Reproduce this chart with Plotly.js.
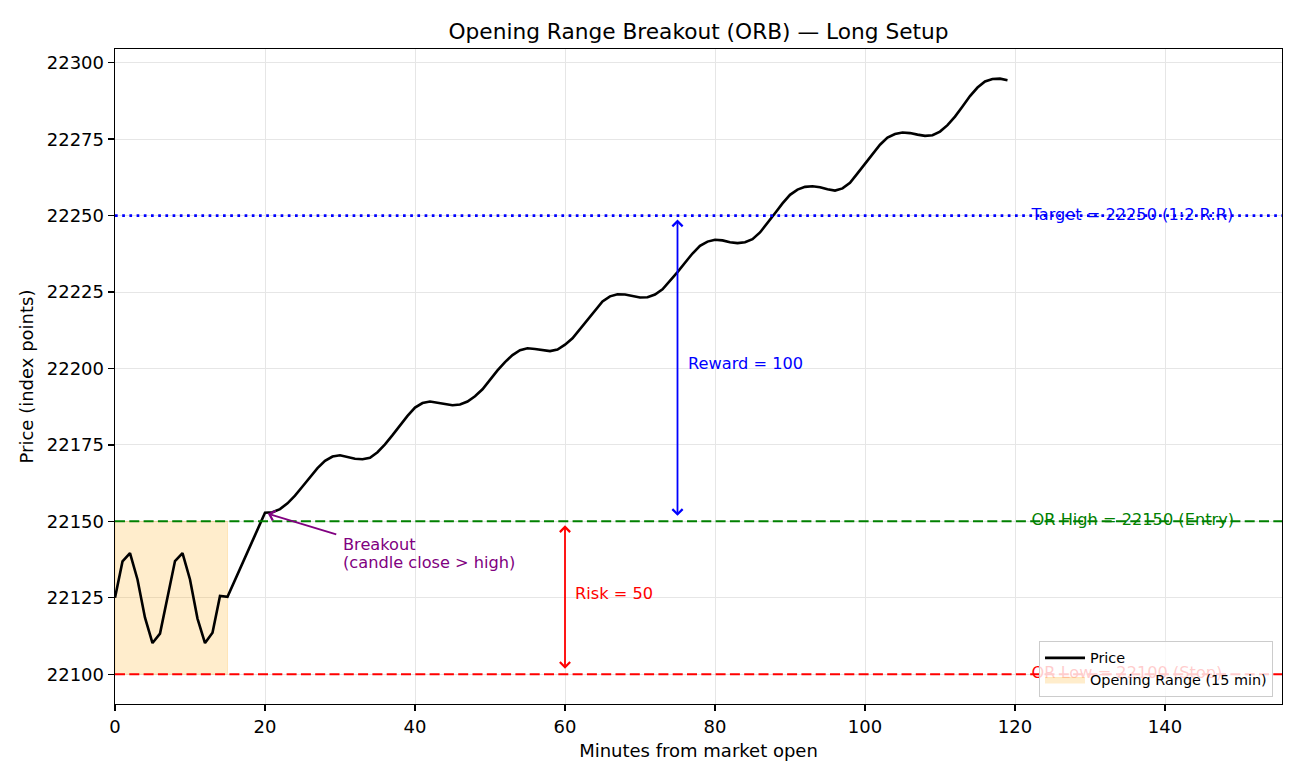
<!DOCTYPE html>
<html>
<head>
<meta charset="utf-8">
<script src="https://cdn.plot.ly/plotly-3.0.1.min.js"></script>
<style>
  html, body { margin: 0; padding: 0; background: #ffffff; }
  #chart { width: 1300px; height: 780px; }
</style>
</head>
<body>
<div id="chart"></div>
<script>
// ---------------- data ----------------
const minutes = [
  0, 1, 2, 3, 4, 5, 6, 7, 8, 9, 10, 11, 12, 13, 14, 15, 16, 17, 18, 19,
  20, 21, 22, 23, 24, 25, 26, 27, 28, 29, 30, 31, 32, 33, 34, 35, 36, 37, 38, 39,
  40, 41, 42, 43, 44, 45, 46, 47, 48, 49, 50, 51, 52, 53, 54, 55, 56, 57, 58, 59,
  60, 61, 62, 63, 64, 65, 66, 67, 68, 69, 70, 71, 72, 73, 74, 75, 76, 77, 78, 79,
  80, 81, 82, 83, 84, 85, 86, 87, 88, 89, 90, 91, 92, 93, 94, 95, 96, 97, 98, 99,
  100, 101, 102, 103, 104, 105, 106, 107, 108, 109, 110, 111, 112, 113, 114, 115, 116, 117, 118, 119
];
const price = [
  22125.0, 22136.9, 22139.6, 22131.0, 22118.5, 22110.2, 22113.3, 22125.0, 22137.0, 22139.6,
  22131.0, 22118.2, 22110.2, 22113.6, 22125.6, 22125.3, 22130.8, 22136.3, 22141.8, 22147.3,
  22152.8, 22153.0, 22154.0, 22155.9, 22158.4, 22161.4, 22164.4, 22167.4, 22169.8, 22171.2,
  22171.6, 22171.1, 22170.5, 22170.3, 22170.8, 22172.6, 22175.2, 22178.2, 22181.3, 22184.5,
  22187.2, 22188.7, 22189.2, 22188.9, 22188.4, 22188.0, 22188.2, 22189.2, 22190.9, 22193.2,
  22196.5, 22199.4, 22202.1, 22204.4, 22206.0, 22206.6, 22206.4, 22206.0, 22205.7, 22206.2,
  22207.8, 22209.9, 22212.9, 22216.0, 22219.1, 22221.9, 22223.6, 22224.3, 22224.2, 22223.7,
  22223.2, 22223.3, 22224.2, 22225.9, 22228.6, 22231.5, 22234.6, 22237.6, 22240.1, 22241.5,
  22242.1, 22241.9, 22241.3, 22241.0, 22241.3, 22242.3, 22244.5, 22247.5, 22250.8, 22254.0,
  22256.8, 22258.5, 22259.4, 22259.6, 22259.3, 22258.6, 22258.2, 22258.9, 22260.7, 22263.8,
  22266.9, 22270.2, 22273.2, 22275.5, 22276.7, 22277.2, 22277.0, 22276.5, 22276.1, 22276.3,
  22277.5, 22279.6, 22282.4, 22285.7, 22289.1, 22291.9, 22293.9, 22294.7, 22294.8, 22294.3
];

const orStart = 0;
const orEnd = 15;
const orHigh = 22150;
const orLow = 22100;
const target = 22250;
const breakoutMinute = 20;
const breakoutPrice = 22152.8;
const rewardMinute = 75;
const riskMinute = 60;

const levelLabels = [
  'Target = 22250 (1:2 R:R)',
  'OR High = 22150 (Entry)',
  'OR Low = 22100 (Stop)'
];
const levelValues = [target, orHigh, orLow];
const levelColors = ['#0000ff', '#008000', '#ff0000'];
const levelDashes = ['2.7px,4.5px', '10px,4.3px', '10px,4.3px'];

const xTicks = [0, 20, 40, 60, 80, 100, 120, 140];
const yTicks = [22100, 22125, 22150, 22175, 22200, 22225, 22250, 22275, 22300];

// ---------------- layout constants ----------------
const FONT = 'DejaVu Sans, Verdana, sans-serif';
const labelX = 122.2;

// ---------------- traces ----------------
const traces = [];

// opening range shaded box
traces.push({
  type: 'scatter',
  mode: 'lines',
  x: [orStart, orEnd, orEnd, orStart, orStart],
  y: [orLow, orLow, orHigh, orHigh, orLow],
  fill: 'toself',
  fillcolor: 'rgba(255,165,0,0.2)',
  line: { color: 'rgba(255,165,0,0.2)', width: 1 },
  name: 'Opening Range (15 min)',
  legendrank: 2,
  hoverinfo: 'skip'
});

// level text labels (drawn under the level lines)
levelLabels.forEach((t, i) => {
  traces.push({
    type: 'scatter',
    mode: 'text',
    x: [labelX],
    y: [levelValues[i]],
    text: [t],
    textposition: 'middle right',
    textfont: { family: FONT, size: 16.2, color: levelColors[i] },
    showlegend: false,
    hoverinfo: 'skip',
    cliponaxis: false
  });
});

// price line
traces.push({
  type: 'scatter',
  mode: 'lines',
  x: minutes,
  y: price,
  line: { color: '#000000', width: 2.6 },
  name: 'Price',
  legendrank: 1
});

// ---------------- shapes (level lines) ----------------
const shapes = levelValues.map((v, i) => ({
  type: 'line',
  xref: 'paper', x0: 0, x1: 1,
  yref: 'y', y0: v, y1: v,
  layer: 'above',
  line: { color: levelColors[i], width: i === 0 ? 2.6 : 2.0, dash: levelDashes[i] }
}));

// ---------------- annotations ----------------
const annotations = [
  // reward double arrow
  {
    x: rewardMinute, y: target, xref: 'x', yref: 'y',
    ax: rewardMinute, ay: orHigh, axref: 'x', ayref: 'y',
    text: '', showarrow: true, arrowside: 'end+start',
    arrowhead: 4, startarrowhead: 4, arrowsize: 1.1, startarrowsize: 1.1,
    arrowwidth: 1.8, arrowcolor: '#0000ff', standoff: 4, startstandoff: 4
  },
  // risk double arrow
  {
    x: riskMinute, y: orHigh, xref: 'x', yref: 'y',
    ax: riskMinute, ay: orLow, axref: 'x', ayref: 'y',
    text: '', showarrow: true, arrowside: 'end+start',
    arrowhead: 4, startarrowhead: 4, arrowsize: 1.1, startarrowsize: 1.1,
    arrowwidth: 1.8, arrowcolor: '#ff0000', standoff: 4, startstandoff: 4
  },
  // breakout arrow
  {
    x: breakoutMinute, y: breakoutPrice, xref: 'x', yref: 'y',
    ax: 29.7, ay: 22145.6, axref: 'x', ayref: 'y',
    text: '', showarrow: true,
    arrowhead: 4, arrowsize: 1.1, arrowwidth: 1.8, arrowcolor: '#800080', standoff: 3
  },
  {
    x: 30.1, y: 22142.3, xref: 'x', yref: 'y', xanchor: 'left', yanchor: 'middle',
    text: 'Breakout', showarrow: false,
    font: { family: FONT, size: 16.2, color: '#800080' }
  },
  {
    x: 30.1, y: 22136.6, xref: 'x', yref: 'y', xanchor: 'left', yanchor: 'middle',
    text: '(candle close &gt; high)', showarrow: false,
    font: { family: FONT, size: 16.2, color: '#800080' }
  },
  {
    x: 76.1, y: 22201.6, xref: 'x', yref: 'y', xanchor: 'left', yanchor: 'middle',
    text: 'Reward = 100', showarrow: false,
    font: { family: FONT, size: 16.2, color: '#0000ff' }
  },
  {
    x: 61.0, y: 22126.4, xref: 'x', yref: 'y', xanchor: 'left', yanchor: 'middle',
    text: 'Risk = 50', showarrow: false,
    font: { family: FONT, size: 16.2, color: '#ff0000' }
  }
];

// ---------------- layout ----------------
const axisCommon = {
  showline: true, mirror: true, linecolor: '#000000', linewidth: 1.4,
  ticks: 'outside', ticklen: 6, tickwidth: 1.4, tickcolor: '#000000',
  showgrid: true, gridcolor: '#e6e6e6', gridwidth: 1,
  zeroline: false,
  tickfont: { family: FONT, size: 18, color: '#000000' }
};

const layout = {
  width: 1300, height: 780,
  paper_bgcolor: '#ffffff', plot_bgcolor: '#ffffff',
  font: { family: FONT, color: '#000000' },
  margin: { l: 115, r: 18, t: 49, b: 76 },
  title: {
    text: 'Opening Range Breakout (ORB) — Long Setup',
    font: { family: FONT, size: 21.7, color: '#000000' },
    x: 0.5, xref: 'paper', xanchor: 'center',
    y: 1 - 31 / 780, yref: 'container', yanchor: 'middle'
  },
  xaxis: Object.assign({}, axisCommon, {
    range: [0, 155.6],
    tickmode: 'array', tickvals: xTicks, ticktext: xTicks.map(String),
    title: { text: 'Minutes from market open', font: { family: FONT, size: 18 }, standoff: 8 }
  }),
  yaxis: Object.assign({}, axisCommon, {
    range: [22090.26, 22304.5],
    tickmode: 'array', tickvals: yTicks, ticktext: yTicks.map(String),
    title: { text: 'Price (index points)', font: { family: FONT, size: 18 }, standoff: 8 }
  }),
  showlegend: true,
  legend: {
    x: 0.9923, y: 0.0107, xanchor: 'right', yanchor: 'bottom',
    bgcolor: 'rgba(255,255,255,0.8)', bordercolor: '#cccccc', borderwidth: 1,
    font: { family: FONT, size: 14.4, color: '#000000' },
    traceorder: 'normal', itemwidth: 40, tracegroupgap: 0
  },
  shapes: shapes,
  annotations: annotations
};

Plotly.newPlot('chart', traces, layout, { staticPlot: true, displayModeBar: false });
</script>
</body>
</html>
